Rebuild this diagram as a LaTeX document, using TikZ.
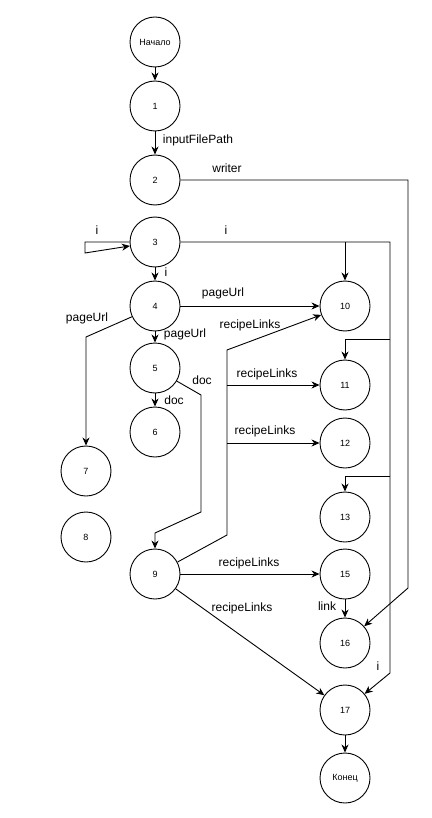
\documentclass[tikz,border=0pt]{standalone}
\usepackage{fontspec}
\setmainfont{Liberation Sans}
\usetikzlibrary{arrows.meta}

\begin{document}
\begin{tikzpicture}[x=1pt,y=-1pt,
  vtx/.style={circle, draw, line width=0.9pt, minimum size=50pt, inner sep=0pt, font=\fontsize{9}{10}\selectfont},
  lbl/.style={font=\fontsize{12}{14}\selectfont, inner sep=0pt},
  arr/.style={line width=0.9pt, -{Stealth[length=8pt,width=7pt,inset=2.5pt]}}]
\useasboundingbox (0,0) rectangle (431,818);
\node[vtx] (start) at (155,42) {Начало};
\node[vtx] (n1) at (155,106) {1};
\node[vtx] (n2) at (155,180) {2};
\node[vtx] (n3) at (155,242) {3};
\node[vtx] (n4) at (155,306) {4};
\node[vtx] (n5) at (155,368) {5};
\node[vtx] (n6) at (155,432) {6};
\node[vtx] (n7) at (86,471) {7};
\node[vtx] (n8) at (86,537) {8};
\node[vtx] (n9) at (155,574) {9};
\node[vtx] (n10) at (345,306) {10};
\node[vtx] (n11) at (345,385) {11};
\node[vtx] (n12) at (345,443) {12};
\node[vtx] (n13) at (345,517) {13};
\node[vtx] (n15) at (345,574) {15};
\node[vtx] (n16) at (345,643) {16};
\node[vtx] (n17) at (345,710) {17};
\node[vtx] (fin) at (345,778) {Конец};

\coordinate (i10) at (345,242);
\coordinate (i11) at (390,339);
\coordinate (i13) at (390,476);
\coordinate (r11) at (227,385);
\coordinate (r12) at (227,443);

\draw[arr] (start) -- (n1);
\draw[arr] (n1) -- (n2);
\draw[arr] (n2.east) -- (408,180) -- (408,588) -- (n16);
\draw[arr] (n3.west) -- (85,242) -- (85,253) -- (n3);
\draw[arr] (n3) -- (n4);
\draw[arr] (n3.east) -- (390,242) -- (390,673) -- (n17);
\draw[arr] (i10) -- (n10);
\draw[arr] (i11) -- (345,339) -- (n11);
\draw[arr] (i13) -- (345,476) -- (n13);
\draw[arr] (n4) -- (n10);
\draw[arr] (n4.205) -- (86,337) -- (n7);
\draw[arr] (n4) -- (n5);
\draw[arr] (n5) -- (n6);
\draw[arr] (n5.-31) -- (201,395) -- (201,512) -- (155,533) -- (n9);
\draw[arr] (n9.28) -- (227,535) -- (227,350) -- (n10);
\draw[arr] (r11) -- (n11);
\draw[arr] (r12) -- (n12);
\draw[arr] (n9) -- (n15);
\draw[arr] (n9) -- (n17);
\draw[arr] (n15) -- (n16);
\draw[arr] (n17) -- (fin);

\node[lbl] (l1) at (198,140) {inputFilePath};
\node[lbl] (l2) at (227,168) {writer};
\node[lbl] (l3) at (97,230) {i};
\node[lbl] (l4) at (166,272) {i};
\node[lbl] (l5) at (226,230) {i};
\node[lbl] (l6) at (378,666) {i};
\node[lbl] (l7) at (223,293) {pageUrl};
\node[lbl] (l8) at (87,318) {pageUrl};
\node[lbl] (l9) at (185,334) {pageUrl};
\node[lbl] (l10) at (174,400) {doc};
\node[lbl] (l11) at (202,380) {doc};
\node[lbl] (l12) at (250,325) {recipeLinks};
\node[lbl] (l13) at (267,374) {recipeLinks};
\node[lbl] (l14) at (265,431) {recipeLinks};
\node[lbl] (l15) at (249,563) {recipeLinks};
\node[lbl] (l16) at (242,608) {recipeLinks};
\node[lbl] (l17) at (327,606) {link};
\end{tikzpicture}
\end{document}
